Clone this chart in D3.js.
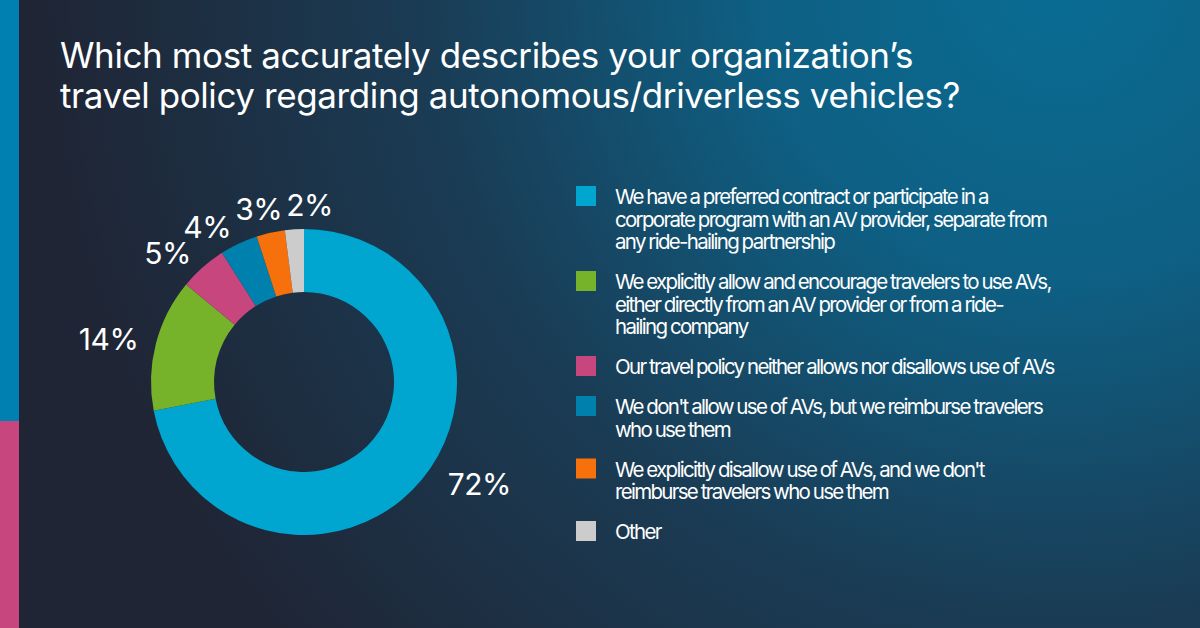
<!DOCTYPE html>
<html>
<head>
<meta charset="utf-8">
<script src="https://cdn.jsdelivr.net/npm/d3@7"></script>
<style>
  html, body { margin: 0; padding: 0; background: #1f2535; }
  svg { display: block; }
  text { font-family: Inter, "Noto Sans", sans-serif; fill: #ffffff; }
</style>
</head>
<body>
<div id="chart"></div>
<script>
// Chart data
const titleLines = [
    "Which most accurately describes your organization\u2019s",
    "travel policy regarding autonomous/driverless vehicles?"
];
const categories = [
    "We have a preferred contract or participate in a corporate program with an AV provider, separate from any ride-hailing partnership",
    "We explicitly allow and encourage travelers to use AVs, either directly from an AV provider or from a ride-hailing company",
    "Our travel policy neither allows nor disallows use of AVs",
    "We don't allow use of AVs, but we reimburse travelers who use them",
    "We explicitly disallow use of AVs, and we don't reimburse travelers who use them",
    "Other"
];
// legend text as broken in the original
const legendLines = [
    ["We have a preferred contract or participate in a", "corporate program with an AV provider, separate from", "any ride-hailing partnership"],
    ["We explicitly allow and encourage travelers to use AVs,", "either directly from an AV provider or from a ride-", "hailing company"],
    ["Our travel policy neither allows nor disallows use of AVs"],
    ["We don't allow use of AVs, but we reimburse travelers", "who use them"],
    ["We explicitly disallow use of AVs, and we don't", "reimburse travelers who use them"],
    ["Other"]
];
const values = [72, 14, 5, 4, 3, 2];
const colors = ["#01a6d0", "#76b22a", "#c8467e", "#0080ac", "#f6700c", "#cccccc"];

const width = 1200, height = 628;

const svg = d3.select("#chart")
    .append("svg")
    .attr("width", width)
    .attr("height", height);

// Background gradient
const defs = svg.append("defs");
const bg = defs.append("radialGradient")
    .attr("id", "bg")
    .attr("gradientUnits", "userSpaceOnUse")
    .attr("cx", 1060).attr("cy", -20).attr("r", 1020);
bg.append("stop").attr("offset", "0%").attr("stop-color", "#0a6c93");
bg.append("stop").attr("offset", "30%").attr("stop-color", "#0e5f83");
bg.append("stop").attr("offset", "62%").attr("stop-color", "#1a3c55");
bg.append("stop").attr("offset", "100%").attr("stop-color", "#1f2535");

svg.append("rect")
    .attr("width", width).attr("height", height)
    .attr("fill", "url(#bg)");

// Left accent bar
svg.append("rect").attr("x", 0).attr("y", 0).attr("width", 19).attr("height", 421).attr("fill", "#0080b0");
svg.append("rect").attr("x", 0).attr("y", 421).attr("width", 19).attr("height", height - 421).attr("fill", "#c8467e");

// Title
svg.append("text")
    .attr("x", 60)
    .attr("y", 68)
    .style("font-size", "35px")
    .style("letter-spacing", "-0.4px")
    .selectAll("tspan")
    .data(titleLines)
    .enter().append("tspan")
    .attr("x", 60)
    .attr("dy", (d, i) => i === 0 ? 0 : 40)
    .text(d => d);

// Donut
const cx = 304, cy = 382;
const outerR = 153, innerR = 90, labelR = 171;

const pie = d3.pie().sort(null).value(d => d);
const arcs = pie(values);
const arc = d3.arc().innerRadius(innerR).outerRadius(outerR);

const g = svg.append("g").attr("transform", `translate(${cx},${cy})`);

g.selectAll(".slice")
    .data(arcs)
    .enter().append("path")
    .attr("class", "slice")
    .attr("d", arc)
    .attr("fill", (d, i) => colors[i]);

// Percentage labels
const midAngle = d => (d.startAngle + d.endAngle) / 2;
const labels = g.selectAll(".pct")
    .data(arcs)
    .enter().append("text")
    .attr("class", "pct")
    .style("font-size", "30px")
    .style("letter-spacing", "-0.5px")
    .attr("dy", "0.35em")
    .attr("text-anchor", d => midAngle(d) < Math.PI ? "start" : "end")
    .attr("x", d => Math.sin(midAngle(d)) * labelR + (midAngle(d) < Math.PI ? 12 : 0))
    .attr("y", d => -Math.cos(midAngle(d)) * labelR - (midAngle(d) < Math.PI ? 6 : 0))
    .text(d => d.data + "%");

// Push crowded labels apart (left side, toward the top)
const nodes = labels.nodes();
for (let i = 2; i < nodes.length; i++) {
    const a = nodes[i - 1].getBBox();
    const b = nodes[i].getBBox();
    const dyCenters = Math.abs(+nodes[i].getAttribute("y") - +nodes[i - 1].getAttribute("y"));
    const overlapX = a.x + a.width + 4 - b.x;
    if (overlapX > 0 && dyCenters < 20) {
        d3.select(nodes[i])
            .attr("x", +nodes[i].getAttribute("x") + overlapX)
            .attr("y", +nodes[i].getAttribute("y") - 6);
    }
}

// Legend
const legendX = 576, firstBaseline = 204, lineH = 22.5, itemGap = 17.5;
let baseline = firstBaseline;
const legend = svg.append("g");
legendLines.forEach((lines, i) => {
    legend.append("rect")
        .attr("x", legendX)
        .attr("y", baseline - 18)
        .attr("width", 20)
        .attr("height", 20)
        .attr("fill", colors[i]);
    legend.append("text")
        .attr("x", legendX + 39)
        .attr("y", baseline)
        .style("font-size", "20.5px")
        .style("letter-spacing", "-1.7px")
        .style("word-spacing", "-0.5px")
        .selectAll("tspan")
        .data(lines)
        .enter().append("tspan")
        .attr("x", legendX + 39)
        .attr("dy", (d, j) => j === 0 ? 0 : lineH)
        .text(d => d);
    baseline += lines.length * lineH + itemGap;
});
</script>
</body>
</html>
